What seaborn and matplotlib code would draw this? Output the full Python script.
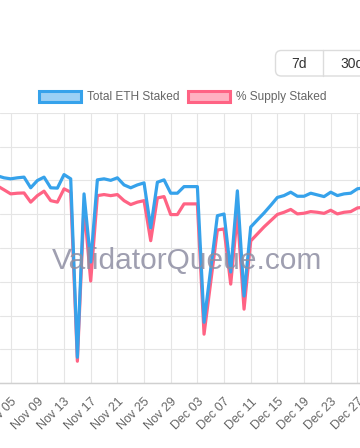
import matplotlib
matplotlib.use("Agg")
import matplotlib.pyplot as plt
import matplotlib.dates as mdates
from matplotlib.patches import Patch, FancyBboxPatch
from matplotlib.lines import Line2D
import seaborn as sns
import pandas as pd
import numpy as np

# ---------------- data ----------------
start_date = "2024-11-03"
total_eth_staked_m = [
    34.427, 34.415, 34.409, 34.415, 34.419, 34.356, 34.399, 34.419, 34.356, 34.354,
    34.434, 34.409, 33.354, 34.320, 33.917, 34.403, 34.409, 34.400, 34.415, 34.373,
    34.356, 34.373, 34.385, 34.119, 34.389, 34.403, 34.324, 34.324, 34.363, 34.363,
    34.363, 33.561, 33.876, 34.191, 34.201, 33.858, 34.338, 33.716, 34.124, 34.166,
    34.207, 34.252, 34.299, 34.310, 34.330, 34.306, 34.306, 34.324, 34.314, 34.304,
    34.330, 34.310, 34.320, 34.324, 34.350, 34.356,
]
supply_staked_pct = [
    28.459, 28.430, 28.400, 28.405, 28.407, 28.339, 28.387, 28.420, 28.350, 28.339,
    28.437, 28.413, 27.163, 28.311, 27.756, 28.387, 28.395, 28.387, 28.395, 28.350,
    28.321, 28.339, 28.350, 28.054, 28.370, 28.380, 28.247, 28.247, 28.326, 28.326,
    28.326, 27.363, 27.748, 28.133, 28.141, 27.733, 28.252, 27.548, 28.052, 28.104,
    28.156, 28.202, 28.248, 28.264, 28.285, 28.252, 28.257, 28.269, 28.264, 28.256,
    28.279, 28.252, 28.264, 28.269, 28.296, 28.302,
]
tick_dates = ["2024-11-05", "2024-11-09", "2024-11-13", "2024-11-17", "2024-11-21",
              "2024-11-25", "2024-11-29", "2024-12-03", "2024-12-07", "2024-12-11",
              "2024-12-15", "2024-12-19", "2024-12-23", "2024-12-27"]
tick_labels = ["Nov 05", "Nov 09", "Nov 13", "Nov 17", "Nov 21", "Nov 25", "Nov 29",
               "Dec 03", "Dec 07", "Dec 11", "Dec 15", "Dec 19", "Dec 23", "Dec 27"]
legend_labels = ["Total ETH Staked", "% Supply Staked"]
range_buttons = ["7d", "30d"]
watermark = "ValidatorQueue.com"

dates = pd.date_range(start_date, periods=len(total_eth_staked_m), freq="D")
df = pd.DataFrame({"date": dates, "eth": total_eth_staked_m, "pct": supply_staked_pct})

# ---------------- style ----------------
sns.set_theme(style="white")
plt.rcParams["font.family"] = ["Liberation Sans", "DejaVu Sans"]

BLUE = "#36A2EB"
PINK = "#FF6384"
BLUE_FILL = "#9BD0F5"
PINK_FILL = "#FFB1C1"
GRID = "#e5e5e5"
TXT = "#666666"

W, H = 360, 448
fig = plt.figure(figsize=(W / 100, H / 100), dpi=100)
fig.patch.set_facecolor("white")

def fx(px):
    return px / W

def fy(py):
    return 1 - py / H

top_px, bot_px = 112.7, 383.3
ax = fig.add_axes([0, fy(bot_px), 1, (bot_px - top_px) / H])
ax2 = ax.twinx()

# watermark (behind lines)
fig.text(fx(187), fy(261), watermark, ha="center", va="center", fontsize=21.5,
         color="#8e8ea3", alpha=0.85, zorder=0)

# pink (drawn below), blue on top
sns.lineplot(data=df, x="date", y="pct", ax=ax, color=PINK, linewidth=2.3, legend=False)
sns.lineplot(data=df, x="date", y="eth", ax=ax2, color=BLUE, linewidth=2.3, legend=False)

# x scale: Nov 05 at 10.7 px, 6.667 px per day
ref = mdates.date2num(pd.Timestamp(tick_dates[0]))
ppd = 6.667
ax.set_xlim(ref - 10.7 / ppd, ref + (W - 10.7) / ppd)

ax.set_ylim(27.0, 29.0)
ax.set_yticks(np.linspace(27.0, 29.0, 9))
ax2.set_ylim(33.2, 34.8)

ax.set_xticks([mdates.date2num(pd.Timestamp(d)) for d in tick_dates])
ax.set_xticklabels(tick_labels, rotation=45, ha="right", rotation_mode="anchor",
                   fontsize=9, color=TXT)
ax.tick_params(axis="x", length=6, width=0.8, color=GRID, pad=3)
ax.tick_params(axis="y", left=False, right=False, labelleft=False, labelright=False)
ax2.tick_params(axis="y", left=False, right=False, labelleft=False, labelright=False)
ax.set_xlabel("")
ax.set_ylabel("")
ax2.set_ylabel("")
ax.patch.set_alpha(0)
ax2.patch.set_alpha(0)

ax.grid(True, color=GRID, linewidth=0.8)
ax.set_axisbelow(True)
for a in (ax, ax2):
    for s in ("left", "right", "top"):
        a.spines[s].set_visible(False)
    a.spines["bottom"].set_color("#d0d0d0")
    a.spines["bottom"].set_linewidth(0.9)

# legend
handles = [Patch(facecolor=BLUE_FILL, edgecolor=BLUE, linewidth=2.2),
           Patch(facecolor=PINK_FILL, edgecolor=PINK, linewidth=2.2)]
fig.legend(handles, legend_labels, loc="center", bbox_to_anchor=(fx(182.5), fy(97)),
           ncol=2, frameon=False, fontsize=8.6, labelcolor=TXT,
           handlelength=3.55, handleheight=1.15, handletextpad=0.45, columnspacing=0.75)

# range buttons
btn = FancyBboxPatch((fx(275.5), fy(76)), fx(120), (76 - 50.5) / H,
                     boxstyle="round,pad=0,rounding_size=0.016",
                     transform=fig.transFigure, facecolor="white",
                     edgecolor="#dcdcdc", linewidth=1.0, mutation_aspect=W / H)
fig.patches.append(btn)
fig.add_artist(Line2D([fx(323), fx(323)], [fy(76), fy(50.5)], transform=fig.transFigure,
                      color="#dcdcdc", linewidth=1.0))
fig.text(fx(299), fy(63.5), range_buttons[0], ha="center", va="center", fontsize=10, color="#333333")
fig.text(fx(352), fy(63.5), range_buttons[1], ha="center", va="center", fontsize=10, color="#333333")

fig.savefig("out.png", dpi=100)
